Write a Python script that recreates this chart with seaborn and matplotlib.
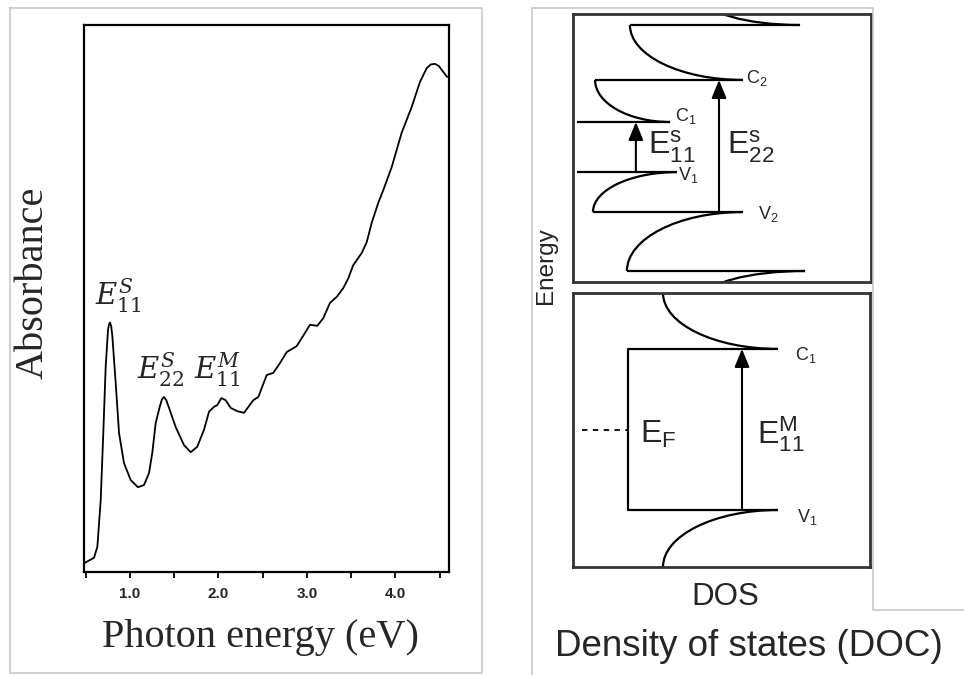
import matplotlib
matplotlib.use("Agg")
import matplotlib.pyplot as plt
from matplotlib.path import Path
from matplotlib.patches import PathPatch
from matplotlib.lines import Line2D
import seaborn as sns

# ---- left: absorption spectrum (energy in eV, absorbance in a.u.) ----
photon_energy = [0.480, 0.593, 0.631, 0.669, 0.698, 0.725, 0.751, 0.763, 0.774, 0.787,
                 0.800, 0.838, 0.876, 0.932, 1.008, 1.090, 1.158, 1.215, 1.252, 1.290,
                 1.339, 1.362, 1.384, 1.410, 1.441, 1.516, 1.610, 1.686, 1.760, 1.836,
                 1.893, 1.949, 1.986, 2.032, 2.081, 2.138, 2.212, 2.288, 2.393, 2.450,
                 2.545, 2.619, 2.695, 2.771, 2.884, 2.977, 3.034, 3.116, 3.184, 3.260,
                 3.336, 3.410, 3.467, 3.523, 3.618, 3.675, 3.731, 3.806, 3.862, 3.957,
                 4.070, 4.183, 4.277, 4.353, 4.400, 4.446, 4.490, 4.522, 4.585]
absorbance = [0.016, 0.026, 0.046, 0.132, 0.254, 0.375, 0.442, 0.453, 0.456, 0.450,
              0.432, 0.346, 0.254, 0.199, 0.168, 0.155, 0.159, 0.181, 0.218, 0.272,
              0.304, 0.316, 0.320, 0.314, 0.300, 0.265, 0.232, 0.219, 0.229, 0.260,
              0.293, 0.302, 0.305, 0.318, 0.314, 0.300, 0.294, 0.291, 0.314, 0.320,
              0.360, 0.364, 0.382, 0.402, 0.413, 0.437, 0.452, 0.450, 0.464, 0.492,
              0.503, 0.519, 0.537, 0.561, 0.583, 0.603, 0.638, 0.675, 0.698, 0.740,
              0.803, 0.850, 0.896, 0.921, 0.928, 0.929, 0.925, 0.918, 0.905]
major_ticks = [1.0, 2.0, 3.0, 4.0]
major_labels = ["1.0", "2.0", "3.0", "4.0"]
minor_ticks = [0.5, 1.5, 2.5, 3.5, 4.5]
peak_names = [r"$E_{11}^{S}$", r"$E_{22}^{S}$", r"$E_{11}^{M}$"]
peak_x = [0.60, 1.075, 1.725]
peak_y = [0.470, 0.334, 0.334]

# ---- right top: semiconducting tube, levels C1 C2 C3 V1 V2 V3 ----
semi_level = [0.597, 0.754, 0.959, 0.410, 0.261, 0.041]
semi_peak = [0.326, 0.570, 0.762, 0.349, 0.570, 0.779]
semi_tail_e = [0.754, 0.959, 1.060, 0.261, 0.041, -0.060]
semi_tail_x = [0.074, 0.191, 0.440, 0.067, 0.181, 0.440]
semi_line_start = [0.013, 0.074, 0.191, 0.013, 0.067, 0.181]
semi_arrow_x = [0.211, 0.490]
semi_arrow_from = [0.410, 0.261]
semi_arrow_to = [0.597, 0.754]
semi_names = [r"$\mathregular{C_1}$", r"$\mathregular{C_2}$",
              r"$\mathregular{V_1}$", r"$\mathregular{V_2}$"]
semi_name_x = [0.342, 0.581, 0.352, 0.621]
semi_name_y = [0.619, 0.761, 0.400, 0.254]
semi_trans = [r"$\mathregular{E^{s}_{11}}$", r"$\mathregular{E^{s}_{22}}$"]
semi_trans_x = [0.250, 0.518]
semi_trans_y = [0.505, 0.505]

# ---- right bottom: metallic tube, levels C1 V1 ----
metal_level = [0.796, 0.208]
metal_peak = [0.690, 0.690]
metal_tail_e = [1.0, 0.0]
metal_tail_x = [0.303, 0.303]
metal_line_start = [0.185, 0.185]
metal_arrow_x = 0.569
metal_fermi = 0.5
metal_fermi_x = [0.030, 0.185]
metal_names = [r"$\mathregular{C_1}$", r"$\mathregular{V_1}$"]
metal_name_x = [0.747, 0.754]
metal_name_y = [0.774, 0.182]

sns.set_style("ticks")
plt.rcParams["font.family"] = ["Liberation Sans", "DejaVu Sans"]

W, H = 964, 675
fig = plt.figure(figsize=(W / 100, H / 100), dpi=100)


def box(x0, y0, x1, y1):
    # pixel box (top-left origin) -> figure fraction rect
    return [x0 / W, 1 - y1 / H, (x1 - x0) / W, (y1 - y0) / H]


# light grey frames around both panels
grey = "#c8c8c8"
fig.add_artist(Line2D([10 / W, 482 / W, 482 / W, 10 / W, 10 / W],
                      [1 - 8 / H, 1 - 8 / H, 1 - 673 / H, 1 - 673 / H, 1 - 8 / H],
                      transform=fig.transFigure, color=grey, lw=1.2))
fig.add_artist(Line2D([532 / W, 532 / W, 873 / W, 873 / W, 1.0],
                      [0.0, 1 - 8 / H, 1 - 8 / H, 1 - 610 / H, 1 - 610 / H],
                      transform=fig.transFigure, color=grey, lw=1.2))

# ---------------- left panel ----------------
ax = fig.add_axes(box(84, 25, 449, 572))
sns.lineplot(x=photon_energy, y=absorbance, ax=ax, color="black", lw=1.3, sort=False)
ax.set_xlim(0.48, 4.605)
ax.set_ylim(0, 1)
ax.set_yticks([])
ax.set_xticks(major_ticks)
ax.set_xticklabels(major_labels, fontsize=11, fontweight="bold")
ax.set_xticks(minor_ticks, minor=True)
ax.tick_params(axis="x", which="both", direction="out", length=4, width=1.3,
               pad=7, top=False, color="black")
for s in ax.spines.values():
    s.set_visible(True)
    s.set_linewidth(1.6)
    s.set_color("black")
for name, xx, yy in zip(peak_names, peak_x, peak_y):
    ax.text(xx, yy, name, fontsize=21, math_fontfamily="dejavuserif",
            ha="left", va="bottom")

fig.text(33 / W, 1 - 283 / H, "Absorbance", rotation=90, ha="center", va="center",
         fontsize=29, family="Liberation Serif")
fig.text(260 / W, 1 - 638 / H, "Photon energy (eV)", ha="center", va="center",
         fontsize=29, family="Liberation Serif")


# ---------------- right panels ----------------
def band(axis, level, peak, tail_e, tail_x, start):
    k = 0.5523
    verts = [(peak, level), (peak - k * (peak - tail_x), level),
             (tail_x, tail_e - k * (tail_e - level)), (tail_x, tail_e)]
    codes = [Path.MOVETO, Path.CURVE4, Path.CURVE4, Path.CURVE4]
    axis.add_patch(PathPatch(Path(verts, codes), fill=False, lw=1.6, ec="black"))
    axis.plot([start, peak], [level, level], color="black", lw=1.6,
              solid_capstyle="butt")


def arrow(axis, x, y0, y1):
    axis.annotate("", xy=(x, y1), xytext=(x, y0),
                  arrowprops=dict(arrowstyle="-|>,head_length=1.1,head_width=0.45",
                                  mutation_scale=10, lw=1.5, color="black",
                                  shrinkA=0, shrinkB=0))


def frame(axis):
    axis.set_xlim(0, 1)
    axis.set_ylim(0, 1)
    axis.set_xticks([])
    axis.set_yticks([])
    for s in axis.spines.values():
        s.set_visible(True)
        s.set_linewidth(2.0)
        s.set_color("#333333")


axt = fig.add_axes(box(573, 14, 871, 282))
frame(axt)
for lv, pk, te, tx, st in zip(semi_level, semi_peak, semi_tail_e, semi_tail_x, semi_line_start):
    band(axt, lv, pk, te, tx, st)
for xx, a, b in zip(semi_arrow_x, semi_arrow_from, semi_arrow_to):
    arrow(axt, xx, a, b)
for nm, xx, yy in zip(semi_names, semi_name_x, semi_name_y):
    axt.text(xx, yy, nm, fontsize=13, ha="left", va="center")
for nm, xx, yy in zip(semi_trans, semi_trans_x, semi_trans_y):
    axt.text(xx, yy, nm, fontsize=23, ha="left", va="center")

axb = fig.add_axes(box(573, 293, 870, 567))
frame(axb)
for lv, pk, te, tx, st in zip(metal_level, metal_peak, metal_tail_e, metal_tail_x, metal_line_start):
    band(axb, lv, pk, te, tx, st)
axb.plot([metal_line_start[0], metal_line_start[1]], metal_level, color="black", lw=1.6)
arrow(axb, metal_arrow_x, metal_level[1], metal_level[0])
axb.plot(metal_fermi_x, [metal_fermi, metal_fermi], color="black", lw=1.3, dashes=(3, 3))
for nm, xx, yy in zip(metal_names, metal_name_x, metal_name_y):
    axb.text(xx, yy, nm, fontsize=13, ha="left", va="center")
axb.text(0.226, 0.482, r"$\mathregular{E_{F}}$", fontsize=23, ha="left", va="center")
axb.text(0.620, 0.485, r"$\mathregular{E^{M}_{11}}$", fontsize=23, ha="left", va="center")

fig.text(546 / W, 1 - 266 / H, "Energy", rotation=90, ha="center", va="center", fontsize=17.5)
fig.text(725 / W, 1 - 597 / H, "DOS", ha="center", va="center", fontsize=22.5)
fig.text(749 / W, 1 - 647 / H, "Density of states (DOC)", ha="center", va="center",
         fontsize=26.5)

fig.savefig("out.png", dpi=100, facecolor="white")
